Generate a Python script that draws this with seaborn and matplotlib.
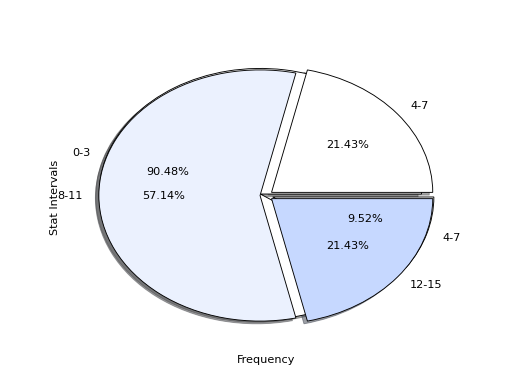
import matplotlib
matplotlib.use('Agg')
import matplotlib.pyplot as plt
import seaborn as sns

sns.set_style('white')
plt.rcParams['font.family'] = ['DejaVu Sans']
plt.rcParams['text.color'] = 'black'
plt.rcParams['axes.labelcolor'] = 'black'

# Data
intervals_a = ['0-3', '4-7']
freq_a = [19, 2]
intervals_b = ['4-7', '8-11', '12-15']
freq_b = [3, 8, 3]
colors_a = ['white', 'white']
colors_b = ['white', '#ebf1fe', '#c6d8ff']

fig, ax = plt.subplots(figsize=(6.4, 4.8), dpi=81.25)
shadow = {'ox': -0.019, 'oy': -0.019}
wp = {'edgecolor': 'black', 'linewidth': 0.8}

ax.pie(freq_a, labels=intervals_a, colors=colors_a, autopct='%.2f%%',
       explode=[0.04] * len(freq_a), shadow=shadow, wedgeprops=wp)
ax.pie(freq_b, labels=intervals_b, colors=colors_b, autopct='%.2f%%',
       explode=[0.04] * len(freq_b), shadow=shadow, wedgeprops=wp)

ax.set_aspect('auto')
ax.set_xlim(-1.25, 1.25)
ax.set_ylim(-1.207, 1.184)
ax.set_xlabel('Frequency', labelpad=6.6)
ax.set_ylabel('Stat Intervals')

fig.savefig('out.png', dpi=81.25)
